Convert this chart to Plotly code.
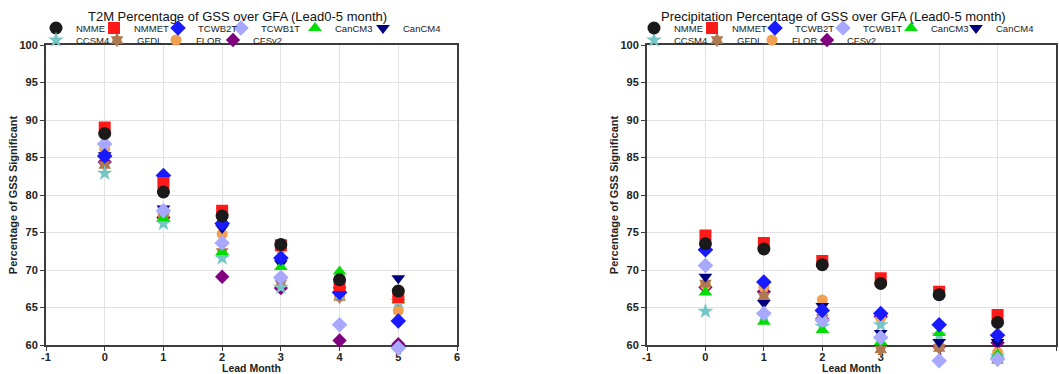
import plotly.graph_objects as go

leads = [0, 1, 2, 3, 4, 5]
models = ["NMME", "NMMET", "TCWB2T", "TCWB1T", "CanCM3", "CanCM4",
          "CCSM4", "GFDL", "FLOR", "CFSv2"]
x_tick_vals = [-1, 0, 1, 2, 3, 4, 5, 6]
x_tick_text = ["-1", "0", "1", "2", "3", "4", "5", "6"]

# T2M percentage of GSS significant (left panel)
t2m_NMME   = [88.2, 80.4, 77.2, 73.4, 68.7, 67.2]
t2m_NMMET  = [89.0, 81.6, 77.9, 73.3, 68.0, 66.4]
t2m_TCWB2T = [85.2, 82.6, 76.2, 71.6, 67.0, 63.2]
t2m_TCWB1T = [86.8, 77.9, 73.6, 69.0, 62.7, 59.6]
t2m_CanCM3 = [85.4, 76.9, 72.4, 70.4, 69.8, 66.0]
t2m_CanCM4 = [85.3, 78.2, 75.6, 70.9, 67.3, 68.9]
t2m_CCSM4  = [82.9, 76.2, 71.6, 67.7, 66.8, 65.8]
t2m_GFDL   = [84.0, 77.1, 72.4, 68.2, 66.4, 66.0]
t2m_FLOR   = [86.1, 77.3, 74.8, 72.9, 66.5, 64.6]
t2m_CFSv2  = [84.4, 77.0, 69.1, 67.6, 60.6, 60.1]

# Precipitation percentage of GSS significant (right panel)
pr_NMME   = [73.5, 72.8, 70.7, 68.2, 66.7, 63.0]
pr_NMMET  = [74.6, 73.6, 71.2, 68.9, 67.1, 64.0]
pr_TCWB2T = [72.7, 68.4, 64.6, 64.2, 62.7, 61.3]
pr_TCWB1T = [70.6, 64.2, 63.3, 61.0, 57.9, 58.1]
pr_CanCM3 = [67.0, 63.1, 62.0, 60.4, 61.6, 58.7]
pr_CanCM4 = [69.1, 65.6, 65.2, 61.6, 60.4, 60.4]
pr_CCSM4  = [64.5, 64.0, 62.5, 62.7, 61.3, 58.5]
pr_GFDL   = [68.2, 66.5, 63.6, 59.4, 59.6, 58.0]
pr_FLOR   = [68.0, 67.7, 66.0, 63.6, 59.8, 59.0]
pr_CFSv2  = [67.7, 67.1, 63.5, 63.8, 59.8, 60.3]

t2m = dict(NMME=t2m_NMME, NMMET=t2m_NMMET, TCWB2T=t2m_TCWB2T, TCWB1T=t2m_TCWB1T,
           CanCM3=t2m_CanCM3, CanCM4=t2m_CanCM4, CCSM4=t2m_CCSM4, GFDL=t2m_GFDL,
           FLOR=t2m_FLOR, CFSv2=t2m_CFSv2)
pr = dict(NMME=pr_NMME, NMMET=pr_NMMET, TCWB2T=pr_TCWB2T, TCWB1T=pr_TCWB1T,
          CanCM3=pr_CanCM3, CanCM4=pr_CanCM4, CCSM4=pr_CCSM4, GFDL=pr_GFDL,
          FLOR=pr_FLOR, CFSv2=pr_CFSv2)

style = {
    "NMME":   ("circle",        "#1a1a1a", 13),
    "NMMET":  ("square",        "#ff1a1a", 12),
    "TCWB2T": ("diamond",       "#1a1aff", 12),
    "TCWB1T": ("diamond",       "#a8a8ff", 12),
    "CanCM3": ("triangle-up",   "#00dd00", 12),
    "CanCM4": ("triangle-down", "#00007f", 12),
    "CCSM4":  ("star",          "#74c6c6", 12),
    "GFDL":   ("hexagram",      "#b07850", 11),
    "FLOR":   ("circle",        "#f0a050", 11),
    "CFSv2":  ("diamond",       "#800080", 11),
}

# legend entry marker centres (pixels) for each panel
legend_px_left = [62, 120, 184, 247, 321, 389, 62, 123, 182, 239]
legend_px_right = [660, 718, 781, 849, 917, 982, 660, 723, 778, 833]

FONT = "Liberation Sans, Arial, sans-serif"
# geometry (pixels)
ML, MR, MT, MB = 46, 3, 45, 5
W = 1059 - ML - MR
H = 374 - MT - MB            # full plot area: y 45..369
AX_BOTTOM = 345              # visible axis bottom
YMIN, YMAX = 60, 100
ppu = (AX_BOTTOM - MT) / (YMAX - YMIN)
ydom0 = (374 - MB - AX_BOTTOM) / H
ydata_min = YMIN - (374 - MB - AX_BOTTOM) / ppu
d1 = (457 - ML) / W
d2 = (647 - ML) / W

def py(ypx):
    return (374 - MB - ypx) / H

fig = go.Figure()
# empty traces so that the framed (visible) subplots are created
for xa, ya in [("x", "y"), ("x2", "y2")]:
    fig.add_trace(go.Scatter(x=[None], y=[None], xaxis=xa, yaxis=ya, mode="markers",
                             showlegend=False, hoverinfo="skip"))

legends = {}
leg_common = dict(orientation="h", xanchor="left", yanchor="middle",
                  bgcolor="rgba(0,0,0,0)", borderwidth=0, itemclick=False,
                  font=dict(family=FONT, size=9.5, color="#222"))

panels = [(t2m, "x3", "y3", legend_px_left, 0), (pr, "x4", "y4", legend_px_right, 10)]
for data, xa, ya, lpx, off in panels:
    for m in reversed(models):
        sym, col, sz = style[m]
        idx = models.index(m)
        lname = "legend" if idx + off == 0 else "legend%d" % (idx + off + 1)
        legends[lname] = dict(leg_common,
                              x=(lpx[idx] - 26 - ML) / W,
                              y=py(28) if idx < 6 else py(40))
        fig.add_trace(go.Scatter(
            x=leads, y=data[m], mode="markers", name=m,
            xaxis=xa, yaxis=ya, cliponaxis=False, legend=lname,
            marker=dict(symbol=sym, color=col, size=sz, line=dict(width=0)),
        ))

tfont = dict(family=FONT, size=11, color="#222", weight="bold")
axis_common = dict(showline=True, linecolor="#3c3c3c", linewidth=2, mirror=True,
                   ticks="outside", ticklen=4, tickcolor="#3c3c3c",
                   gridcolor="#e2e2e2", gridwidth=1, zeroline=False, automargin=False,
                   tickfont=tfont)
xcommon = dict(axis_common, range=[-1, 6], tickvals=x_tick_vals, ticktext=x_tick_text,
               ticklabelstandoff=-3,
               title=dict(text="Lead Month", standoff=8,
                          font=dict(family=FONT, size=10.5, color="#222", weight="bold")))
ycommon = dict(axis_common, range=[YMIN, YMAX], dtick=5, domain=[ydom0, 1],
               title=dict(text="Percentage of GSS Significant", standoff=0, font=tfont))
hidden = dict(visible=False, showgrid=False, zeroline=False, fixedrange=True)

fig.update_layout(
    width=1059, height=374,
    margin=dict(l=ML, r=MR, t=MT, b=MB),
    paper_bgcolor="white", plot_bgcolor="rgba(0,0,0,0)",
    xaxis=dict(xcommon, domain=[0, d1], anchor="y"),
    yaxis=dict(ycommon, anchor="x"),
    xaxis2=dict(xcommon, domain=[d2, 1], anchor="y2"),
    yaxis2=dict(ycommon, anchor="x2"),
    xaxis3=dict(hidden, range=[-1, 6], domain=[0, d1], anchor="y3"),
    yaxis3=dict(hidden, range=[ydata_min, YMAX], domain=[0, 1], anchor="x3"),
    xaxis4=dict(hidden, range=[-1, 6], domain=[d2, 1], anchor="y4"),
    yaxis4=dict(hidden, range=[ydata_min, YMAX], domain=[0, 1], anchor="x4"),
    annotations=[
        dict(text="T2M Percentage of GSS over GFA (Lead0-5 month)", xref="paper", yref="paper",
             x=(237 - ML) / W, y=py(16), showarrow=False, xanchor="center", yanchor="middle",
             font=dict(family=FONT, size=13, color="#111")),
        dict(text="Precipitation Percentage of GSS over GFA (Lead0-5 month)", xref="paper", yref="paper",
             x=(833 - ML) / W, y=py(16), showarrow=False, xanchor="center", yanchor="middle",
             font=dict(family=FONT, size=13, color="#111")),
    ],
    showlegend=True,
    **legends,
)

fig.write_html("out.html")
